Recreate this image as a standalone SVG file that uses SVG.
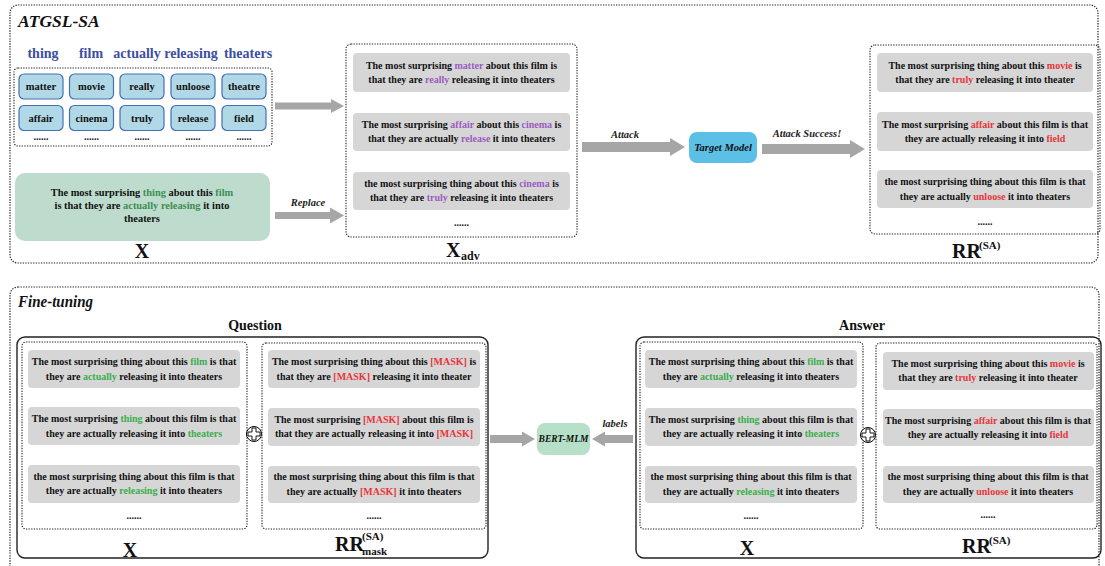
<svg xmlns="http://www.w3.org/2000/svg" xmlns:xlink="http://www.w3.org/1999/xlink" width="1105" height="566" viewBox="0 0 1105 566">
<style>
.frame{fill:none;stroke:#222;stroke-width:1.2;stroke-dasharray:1.3 1.3}
.dash{fill:none;stroke:#222;stroke-width:1.1;stroke-dasharray:1.3 1.3}
.solid{fill:none;stroke:#222;stroke-width:1.4}
.sbox{fill:#d6d6d6}
.s{font-family:"Liberation Serif",serif;font-weight:bold;font-size:10px;fill:#111;text-anchor:middle}
.p{fill:#9b5cc0}
.r{fill:#e8353b}
.g{fill:#3aae4c}
.dg{fill:#3e8e52}
.title{font-family:"Liberation Serif",serif;font-weight:bold;font-style:italic;font-size:17.5px;fill:#111}
.hdr{font-family:"Liberation Serif",serif;font-weight:bold;font-size:14px;fill:#3c4fa3;text-anchor:middle}
.wbox{fill:#b1d8e6;stroke:#4470b4;stroke-width:1.2}
.w{font-family:"Liberation Serif",serif;font-weight:bold;font-size:10.5px;fill:#111;text-anchor:middle}
.lab{font-family:"Liberation Serif",serif;font-weight:bold;font-style:italic;font-size:10.5px;fill:#222;text-anchor:middle}
.big{font-family:"Liberation Serif",serif;font-weight:bold;font-size:20px;fill:#111}
.sup{font-family:"Liberation Serif",serif;font-weight:bold;font-size:11px;fill:#111}
.sec{font-family:"Liberation Serif",serif;font-weight:bold;font-size:14px;fill:#111;text-anchor:middle}
.arrow{fill:#a6a6a6}
.dots{font-family:"Liberation Serif",serif;font-weight:bold;font-size:10px;fill:#111;text-anchor:middle}
</style>
<defs>
<g id="oplus"><circle r="7.5" fill="#fff" stroke="#000" stroke-width="1"/><path d="M-2,-6 H2 V-2 H6 V2 H2 V6 H-2 V2 H-6 V-2 H-2 Z" fill="#fff" stroke="#000" stroke-width="0.9"/></g>
</defs>

<!-- ===== Top section ===== -->
<g id="atgsl-frame">
<rect class="frame" x="10" y="5" width="1088" height="258" rx="8"/>
<text class="title" x="18" y="27">ATGSL-SA</text>
</g>

<g id="word-headers">
<text class="hdr" x="43" y="58">thing</text>
<text class="hdr" x="91" y="58">film</text>
<text class="hdr" x="137" y="58">actually</text>
<text class="hdr" x="191" y="58">releasing</text>
<text class="hdr" x="248" y="58">theaters</text>
</g>

<g id="word-grid">
<rect class="dash" x="14" y="68" width="258" height="78" rx="4"/>
<rect class="wbox" x="19" y="74" width="44" height="25" rx="5"/><text class="w" x="41" y="90">matter</text>
<rect class="wbox" x="69.5" y="74" width="44" height="25" rx="5"/><text class="w" x="91.5" y="90">movie</text>
<rect class="wbox" x="120" y="74" width="44" height="25" rx="5"/><text class="w" x="142" y="90">really</text>
<rect class="wbox" x="171" y="74" width="44" height="25" rx="5"/><text class="w" x="193" y="90">unloose</text>
<rect class="wbox" x="222" y="74" width="44" height="25" rx="5"/><text class="w" x="244" y="90">theatre</text>
<rect class="wbox" x="19" y="105.5" width="44" height="25" rx="5"/><text class="w" x="41" y="121.5">affair</text>
<rect class="wbox" x="69.5" y="105.5" width="44" height="25" rx="5"/><text class="w" x="91.5" y="121.5">cinema</text>
<rect class="wbox" x="120" y="105.5" width="44" height="25" rx="5"/><text class="w" x="142" y="121.5">truly</text>
<rect class="wbox" x="171" y="105.5" width="44" height="25" rx="5"/><text class="w" x="193" y="121.5">release</text>
<rect class="wbox" x="222" y="105.5" width="44" height="25" rx="5"/><text class="w" x="244" y="121.5">field</text>
<text class="dots" x="41" y="140">......</text>
<text class="dots" x="91.5" y="140">......</text>
<text class="dots" x="142" y="140">......</text>
<text class="dots" x="193" y="140">......</text>
<text class="dots" x="244" y="140">......</text>
</g>

<g id="x-top">
<rect x="15" y="173" width="255" height="68" rx="10" fill="#bddccd"/>
<text class="s" x="142" y="196" style="font-size:10.4px">The most surprising <tspan class="dg">thing</tspan> about this <tspan class="dg">film</tspan></text>
<text class="s" x="142" y="209" style="font-size:10.4px">is that they are <tspan class="dg">actually releasing</tspan> it into</text>
<text class="s" x="142" y="222" style="font-size:10.4px">theaters</text>
<text class="big" x="142" y="258" text-anchor="middle">X</text>
</g>

<g id="x-adv">
<rect class="dash" x="346" y="44" width="231" height="193" rx="5"/>
<rect class="sbox" x="353" y="53" width="217" height="39" rx="4"/>
<text class="s" x="461.5" y="69">The most surprising <tspan class="p">matter</tspan> about this film is</text>
<text class="s" x="461.5" y="83">that they are <tspan class="p">really</tspan> releasing it into theaters</text>
<rect class="sbox" x="353" y="113" width="217" height="38" rx="4"/>
<text class="s" x="461.5" y="128">The most surprising <tspan class="p">affair</tspan> about this <tspan class="p">cinema</tspan> is</text>
<text class="s" x="461.5" y="142">that they are actually <tspan class="p">release</tspan> it into theaters</text>
<rect class="sbox" x="353" y="172" width="217" height="38" rx="4"/>
<text class="s" x="461.5" y="187">the most surprising thing about this <tspan class="p">cinema</tspan> is</text>
<text class="s" x="461.5" y="201">that they are <tspan class="p">truly</tspan> releasing it into theaters</text>
<text class="dots" x="461.5" y="226">......</text>
<text class="big" x="446" y="257">X</text><text class="sup" x="461" y="260" style="font-size:12px">adv</text>
</g>

<g id="target-model">
<rect x="689" y="132" width="68" height="31" rx="8" fill="#5bbfe6"/>
<text class="lab" x="723" y="151" style="fill:#111">Target Model</text>
</g>

<g id="rr-top">
<rect class="dash" x="870" y="45" width="230" height="189" rx="5"/>
<rect class="sbox" x="877" y="53" width="216" height="39" rx="4"/>
<text class="s" x="985" y="69">The most surprising thing about this <tspan class="r">movie</tspan> is</text>
<text class="s" x="985" y="83">that they are <tspan class="r">truly</tspan> releasing it into theater</text>
<rect class="sbox" x="877" y="112" width="216" height="39" rx="4"/>
<text class="s" x="985" y="128">The most surprising <tspan class="r">affair</tspan> about this film is that</text>
<text class="s" x="985" y="142">they are actually releasing it into <tspan class="r">field</tspan></text>
<rect class="sbox" x="877" y="170" width="216" height="38" rx="4"/>
<text class="s" x="985" y="185">the most surprising thing about this film is that</text>
<text class="s" x="985" y="200">they are actually <tspan class="r">unloose</tspan> it into theaters</text>
<text class="dots" x="985" y="225">......</text>
<text class="big" x="952" y="258">RR</text><text class="sup" x="979" y="249">(SA)</text>
</g>

<!-- ===== Bottom section ===== -->
<g id="finetune-frame">
<rect class="frame" x="10" y="287" width="1089" height="290" rx="8"/>
<text class="title" x="18" y="307" textLength="75" lengthAdjust="spacingAndGlyphs">Fine-tuning</text>
</g>

<g id="question">
<text class="sec" x="255" y="330">Question</text>
<rect class="solid" x="17" y="337" width="471" height="221" rx="8"/>
<g id="q-x">
<rect class="dash" x="22" y="342" width="225" height="187" rx="4"/>
<rect class="sbox" x="28" y="350" width="212" height="38" rx="4"/>
<text class="s" x="134" y="365">The most surprising thing about this <tspan class="g">film</tspan> is that</text>
<text class="s" x="134" y="380">they are <tspan class="g">actually</tspan> releasing it into theaters</text>
<rect class="sbox" x="28" y="407" width="212" height="38" rx="4"/>
<text class="s" x="134" y="422">The most surprising <tspan class="g">thing</tspan> about this film is that</text>
<text class="s" x="134" y="437">they are actually releasing it into <tspan class="g">theaters</tspan></text>
<rect class="sbox" x="28" y="465" width="212" height="38" rx="4"/>
<text class="s" x="134" y="480">the most surprising thing about this film is that</text>
<text class="s" x="134" y="494">they are actually <tspan class="g">releasing</tspan> it into theaters</text>
<text class="dots" x="134" y="519">......</text>
<text class="big" x="130" y="557" text-anchor="middle">X</text>
</g>
<use xlink:href="#oplus" x="254" y="434"/>
<g id="q-rrmask">
<rect class="dash" x="262" y="343" width="224" height="186" rx="4"/>
<rect class="sbox" x="268" y="350" width="212" height="38" rx="4"/>
<text class="s" x="374" y="365">The most surprising thing about this <tspan class="r">[MASK]</tspan> is</text>
<text class="s" x="374" y="380">that they are <tspan class="r">[MASK]</tspan> releasing it into theater</text>
<rect class="sbox" x="268" y="408" width="212" height="38" rx="4"/>
<text class="s" x="374" y="423">The most surprising <tspan class="r">[MASK]</tspan> about this film is</text>
<text class="s" x="374" y="437">that they are actually releasing it into <tspan class="r">[MASK]</tspan></text>
<rect class="sbox" x="268" y="466" width="212" height="37" rx="4"/>
<text class="s" x="374" y="480">the most surprising thing about this film is that</text>
<text class="s" x="374" y="495">they are actually <tspan class="r">[MASK]</tspan> it into theaters</text>
<text class="dots" x="374" y="519">......</text>
<text class="big" x="335" y="551">RR</text><text class="sup" x="362" y="540">(SA)</text><text class="sup" x="362" y="555">mask</text>
</g>
</g>

<g id="bert-mlm">
<rect x="537" y="423" width="53" height="32" rx="8" fill="#b7e0c8"/>
<text class="lab" x="563.5" y="442" style="font-size:9.5px;fill:#111">BERT-MLM</text>
</g>

<g id="answer">
<text class="sec" x="862" y="330">Answer</text>
<rect class="solid" x="636" y="337" width="465" height="221" rx="8"/>
<g id="a-x">
<rect class="dash" x="640" y="342" width="223" height="187" rx="4"/>
<rect class="sbox" x="645" y="350" width="212" height="38" rx="4"/>
<text class="s" x="751" y="365">The most surprising thing about this <tspan class="g">film</tspan> is that</text>
<text class="s" x="751" y="380">they are <tspan class="g">actually</tspan> releasing it into theaters</text>
<rect class="sbox" x="645" y="408" width="212" height="38" rx="4"/>
<text class="s" x="751" y="423">The most surprising <tspan class="g">thing</tspan> about this film is that</text>
<text class="s" x="751" y="437">they are actually releasing it into <tspan class="g">theaters</tspan></text>
<rect class="sbox" x="645" y="466" width="212" height="37" rx="4"/>
<text class="s" x="751" y="480">the most surprising thing about this film is that</text>
<text class="s" x="751" y="495">they are actually <tspan class="g">releasing</tspan> it into theaters</text>
<text class="dots" x="751" y="519">......</text>
<text class="big" x="747" y="555" text-anchor="middle">X</text>
</g>
<use xlink:href="#oplus" x="868" y="435"/>
<g id="a-rr">
<rect class="dash" x="876" y="343" width="221" height="186" rx="4"/>
<rect class="sbox" x="883" y="352" width="211" height="38" rx="4"/>
<text class="s" x="988" y="367">The most surprising thing about this <tspan class="r">movie</tspan> is</text>
<text class="s" x="988" y="381">that they are <tspan class="r">truly</tspan> releasing it into theater</text>
<rect class="sbox" x="883" y="409" width="211" height="37" rx="4"/>
<text class="s" x="988" y="424">The most surprising <tspan class="r">affair</tspan> about this film is that</text>
<text class="s" x="988" y="438">they are actually releasing it into <tspan class="r">field</tspan></text>
<rect class="sbox" x="883" y="466" width="211" height="37" rx="4"/>
<text class="s" x="988" y="480">the most surprising thing about this film is that</text>
<text class="s" x="988" y="495">they are actually <tspan class="r">unloose</tspan> it into theaters</text>
<text class="dots" x="988" y="518">......</text>
<text class="big" x="962" y="553">RR</text><text class="sup" x="989" y="544">(SA)</text>
</g>
</g>

<!-- ===== Connectors ===== -->
<g id="connectors">
<polygon class="arrow" points="275,102.5 331,102.5 331,99 344,106 331,113 331,109.5 275,109.5"/>
<polygon class="arrow" points="275,212 330,212 330,207.5 344,215.5 330,223.5 330,219 275,219"/>
<text class="lab" x="308" y="206">Replace</text>
<polygon class="arrow" points="582,142 670,142 670,138 685,147 670,156 670,152 582,152"/>
<text class="lab" x="625" y="138">Attack</text>
<polygon class="arrow" points="762,144 850,144 850,140 865,149 850,158 850,154 762,154"/>
<text class="lab" x="807" y="137">Attack Success!</text>
<polygon class="arrow" points="490,435 522,435 522,431.5 535,439 522,446.5 522,443 490,443"/>
<polygon class="arrow" points="633,435 605,435 605,431.5 592,439 605,446.5 605,443 633,443"/>
<text class="lab" x="615" y="427">labels</text>
</g>
</svg>
